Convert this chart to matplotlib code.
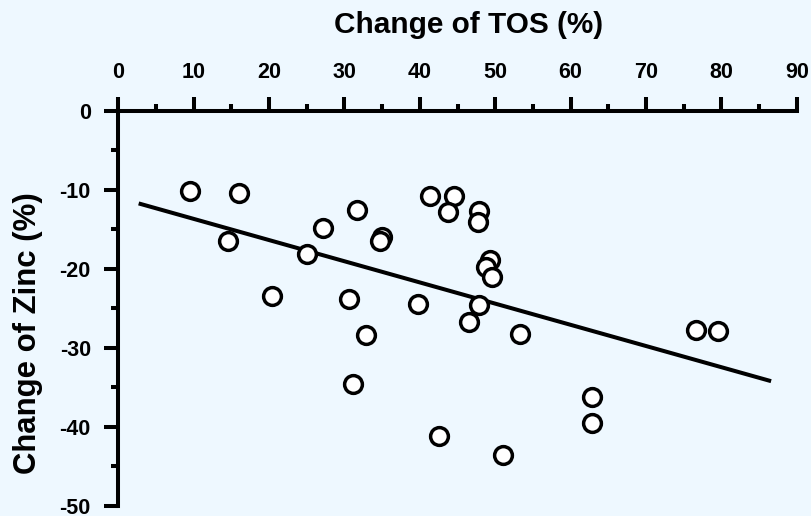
import matplotlib.pyplot as plt
from matplotlib.ticker import MultipleLocator

# change of TOS (%) vs change of zinc (%)
tos = [9.5, 16.0, 14.5, 25.0, 27.2, 20.4, 31.7, 30.6, 31.1, 32.8,
       35.0, 34.7, 41.4, 44.5, 43.7, 47.9, 47.7, 49.3, 48.8, 49.6,
       39.7, 47.9, 46.5, 53.3, 42.5, 51.0, 62.8, 62.8, 76.7, 79.6]
zinc = [-10.1, -10.4, -16.4, -18.1, -14.8, -23.4, -12.5, -23.8, -34.6, -28.4,
        -15.9, -16.5, -10.8, -10.8, -12.8, -12.7, -14.1, -18.8, -19.8, -21.0,
        -24.4, -24.6, -26.7, -28.2, -41.1, -43.6, -36.2, -39.5, -27.7, -27.8]

# regression line
fit_x = [2.7, 86.6]
fit_y = [-11.7, -34.2]

bg = '#eef8ff'
plt.rcParams['font.family'] = ['Liberation Sans', 'DejaVu Sans']
plt.rcParams['font.weight'] = 'bold'
plt.rcParams['axes.unicode_minus'] = False

fig = plt.figure(figsize=(8.11, 5.16), dpi=100, facecolor=bg)
ax = fig.add_axes([0.1459, 0.0194, 0.8365, 0.7655], facecolor=bg)

ax.plot(fit_x, fit_y, color='black', lw=2.9, solid_capstyle='butt', zorder=2)
ax.plot(tos, zinc, 'o', ms=12.8, mfc='white', mec='black', mew=2.5,
        zorder=3, clip_on=False)

ax.set_xlim(0, 90)
ax.set_ylim(-50, 0)
ax.xaxis.set_major_locator(MultipleLocator(10))
ax.xaxis.set_minor_locator(MultipleLocator(5))
ax.yaxis.set_major_locator(MultipleLocator(10))
ax.yaxis.set_minor_locator(MultipleLocator(5))
ax.xaxis.tick_top()

for s in ['right', 'bottom']:
    ax.spines[s].set_visible(False)
for s in ['left', 'top']:
    ax.spines[s].set_linewidth(2.9)

ax.tick_params(which='major', length=10.3, width=2.9, labelsize=15.5, pad=9.5)
ax.tick_params(which='minor', length=5, width=2.9)
for lab in ax.get_xticklabels() + ax.get_yticklabels():
    lab.set_fontweight('bold')

ax.xaxis.set_label_position('top')
ax.set_xlabel('Change of TOS (%)', fontsize=21.4, fontweight='bold')
ax.xaxis.set_label_coords(0.516, 1.197)
ax.set_ylabel('Change of Zinc (%)', fontsize=22.4, fontweight='bold')
ax.yaxis.set_label_coords(-0.111, 0.438)

fig.savefig('out.png', dpi=100, facecolor=bg)
